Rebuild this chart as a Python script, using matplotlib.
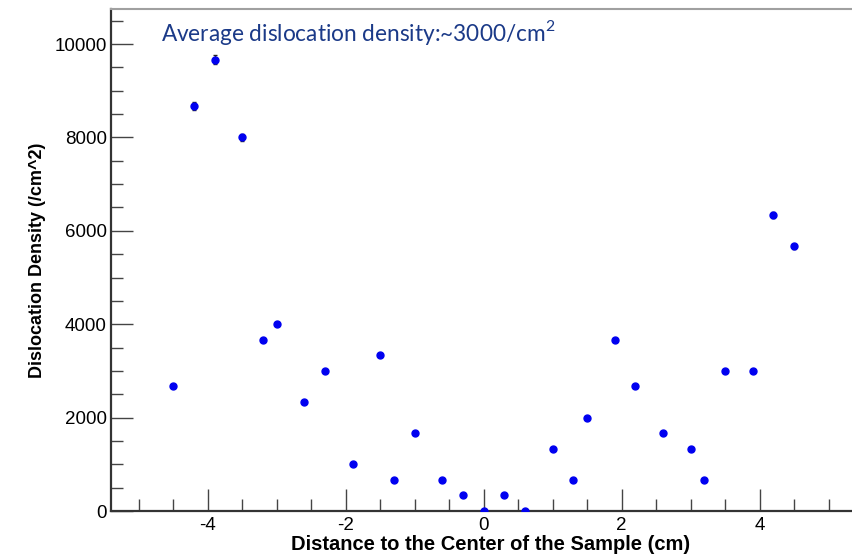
import matplotlib
matplotlib.use("Agg")
import matplotlib.pyplot as plt
from matplotlib.ticker import MultipleLocator

# Data
distance_cm = [-4.5, -4.2, -3.9, -3.5, -3.2, -3.0, -2.6, -2.3, -1.9, -1.5, -1.3, -1.0,
               -0.6, -0.3, 0.0, 0.3, 0.6, 1.0, 1.3, 1.5, 1.9, 2.2, 2.6, 3.0, 3.2,
               3.5, 3.9, 4.2, 4.5]
density = [2667, 8667, 9667, 8000, 3667, 4000, 2333, 3000, 1000, 3333, 667, 1667,
           667, 333, 0, 333, 0, 1333, 667, 2000, 3667, 2667, 1667, 1333, 667,
           3000, 3000, 6333, 5667]
density_err = [30, 90, 95, 80, 40, 40, 30, 35, 15, 35, 10, 20,
               10, 5, 0, 5, 0, 15, 10, 20, 40, 30, 20, 15, 10,
               35, 35, 65, 60]
x_ticks = [-4, -2, 0, 2, 4]
y_ticks = [0, 2000, 4000, 6000, 8000, 10000]

plt.rcParams['axes.unicode_minus'] = False
plt.rcParams['mathtext.fontset'] = 'custom'
plt.rcParams['mathtext.rm'] = 'Lato'

W, H = 853, 555
fig = plt.figure(figsize=(W / 100, H / 100), dpi=100)
left_px, bottom_px, top_px = 111, 511, 9
x0, x1 = -5.4, 5.6
px_per_unit = 69.0
width_px = (x1 - x0) * px_per_unit
ax = fig.add_axes([left_px / W, (H - bottom_px) / H,
                   width_px / W, (bottom_px - top_px) / H])

ax.errorbar(distance_cm, density, yerr=density_err, fmt='none',
            ecolor='#222222', elinewidth=1.0, capsize=1.5, zorder=2)
ax.plot(distance_cm, density, linestyle='none', marker='o', markersize=5,
        color='#0000f0', markeredgecolor='#0000f0', zorder=3)

ax.set_xlim(x0, x1)
ax.set_ylim(0, 10750)
ax.set_xticks(x_ticks)
ax.set_yticks(y_ticks)
ax.xaxis.set_minor_locator(MultipleLocator(0.5))
ax.yaxis.set_minor_locator(MultipleLocator(500))
ax.tick_params(which='major', direction='in', length=16, width=1.0,
               color='#444444', labelsize=13.5, pad=4)
ax.tick_params(which='minor', direction='in', length=8.5, width=1.0,
               color='#444444')
ax.tick_params(axis='y', which='major', pad=3)
ax.tick_params(axis='x', which='both', top=False)
ax.tick_params(axis='y', which='both', right=False)
for lab in ax.get_xticklabels() + ax.get_yticklabels():
    lab.set_fontfamily('Liberation Sans')

for s in ['left', 'bottom']:
    ax.spines[s].set_color('#333333')
    ax.spines[s].set_linewidth(1.6)
ax.spines['top'].set_color('#a0a0a0')
ax.spines['top'].set_linewidth(1.5)
ax.spines['right'].set_visible(False)

ax.set_xlabel('Distance to the Center of the Sample (cm)', fontsize=14.5,
              fontweight='bold', family='Liberation Sans', labelpad=1)
ax.set_ylabel('Dislocation Density (/cm^2)', fontsize=13,
              fontweight='bold', family='Liberation Sans', labelpad=6)

fig.text(161 / W, 1 - 41 / H, r'Average dislocation density:~3000/cm$^\mathregular{2}$',
         fontsize=16.3, family='Lato', color='#1b3a88', ha='left', va='baseline')

fig.savefig('out.png', dpi=100)
